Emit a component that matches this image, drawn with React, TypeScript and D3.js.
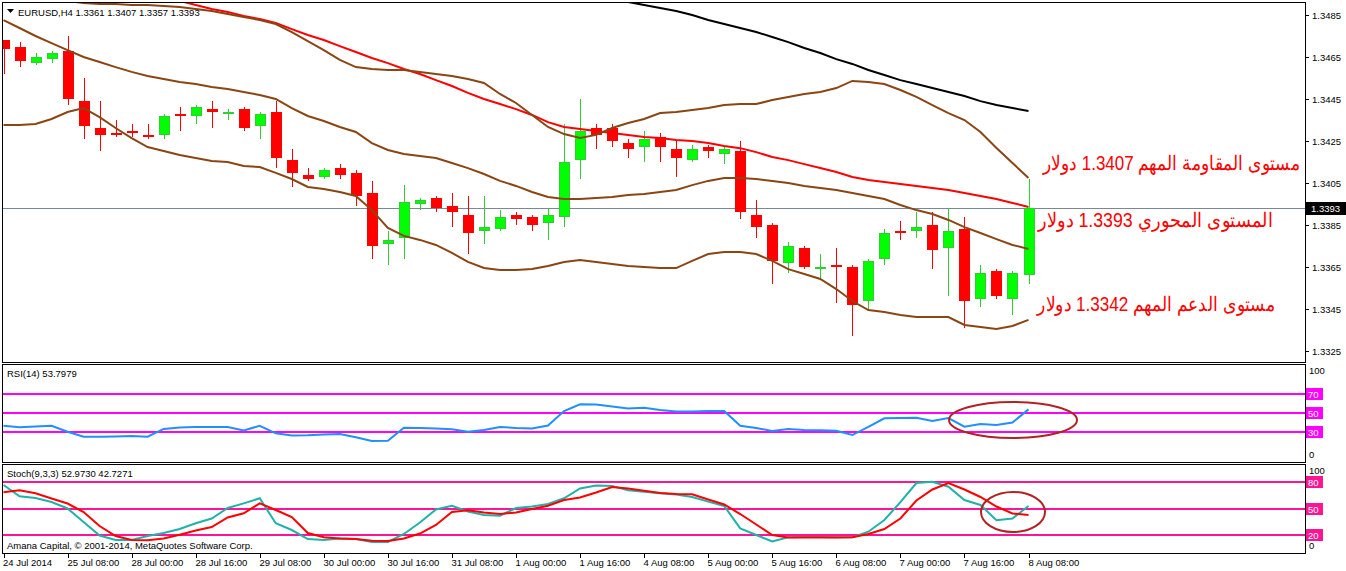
import React, { useEffect, useRef } from 'react';
import * as d3 from 'd3';

const W = 1346;
const H = 571;

// EURUSD H4, 24 Jul 2014 16:00 .. 8 Aug 2014 08:00
const opens = [
  1.3473, 1.3470, 1.3462, 1.3464, 1.3468, 1.3444, 1.3431, 1.3429, 1.3430, 1.3428,
  1.3428, 1.3438, 1.3437, 1.3440, 1.3438, 1.3440, 1.3432, 1.3439, 1.3416, 1.3409,
  1.3408, 1.3412, 1.3410, 1.3400, 1.3376, 1.3379, 1.3395, 1.3398, 1.3394, 1.3390,
  1.3382, 1.3383, 1.3390, 1.3389, 1.3386, 1.3389, 1.3416, 1.3431, 1.3431, 1.3424,
  1.3422, 1.3427, 1.3421, 1.3416, 1.3422, 1.3419, 1.3420, 1.3390, 1.3385, 1.3367,
  1.3374, 1.3364, 1.3366, 1.3365, 1.3349, 1.3369, 1.3382, 1.3382, 1.3385, 1.3374,
  1.3383, 1.3350, 1.3363, 1.3350, 1.3361,
];
const highs = [
  1.3473, 1.3472, 1.3467, 1.3468, 1.3475, 1.3455, 1.3444, 1.3435, 1.3433, 1.3433,
  1.3438, 1.3441, 1.3442, 1.3444, 1.3440, 1.3441, 1.3439, 1.3444, 1.3421, 1.3412,
  1.3412, 1.3414, 1.3411, 1.3406, 1.3382, 1.3404, 1.3398, 1.3399, 1.3400, 1.3399,
  1.3399, 1.3392, 1.3391, 1.3390, 1.3393, 1.3433, 1.3445, 1.3433, 1.3433, 1.3426,
  1.3430, 1.3429, 1.3425, 1.3423, 1.3423, 1.3422, 1.3425, 1.3397, 1.3386, 1.3377,
  1.3375, 1.3371, 1.3374, 1.3366, 1.3369, 1.3383, 1.3387, 1.3391, 1.3391, 1.3393,
  1.3389, 1.3366, 1.3364, 1.3363, 1.3407,
];
const lows = [
  1.3457, 1.3460, 1.3461, 1.3462, 1.3442, 1.3426, 1.3420, 1.3427, 1.3427, 1.3426,
  1.3426, 1.3430, 1.3433, 1.3431, 1.3435, 1.3430, 1.3426, 1.3412, 1.3403, 1.3406,
  1.3407, 1.3407, 1.3394, 1.3369, 1.3366, 1.3369, 1.3392, 1.3391, 1.3384, 1.3371,
  1.3376, 1.3382, 1.3385, 1.3382, 1.3378, 1.3384, 1.3407, 1.3421, 1.3422, 1.3417,
  1.3415, 1.3415, 1.3408, 1.3415, 1.3417, 1.3414, 1.3388, 1.3379, 1.3357, 1.3362,
  1.3364, 1.3359, 1.3348, 1.3332, 1.3345, 1.3366, 1.3378, 1.3379, 1.3364, 1.3351,
  1.3336, 1.3346, 1.3350, 1.3342, 1.3357,
];
const closes = [
  1.3469, 1.3463, 1.3465, 1.3467, 1.3445, 1.3432, 1.3428, 1.3429, 1.3429, 1.3427,
  1.3437, 1.3438, 1.3441, 1.3439, 1.3439, 1.3431, 1.3438, 1.3417, 1.3410, 1.3407,
  1.3411, 1.3409, 1.3399, 1.3375, 1.3378, 1.3396, 1.3397, 1.3393, 1.3391, 1.3381,
  1.3384, 1.3389, 1.3388, 1.3385, 1.3390, 1.3415, 1.3430, 1.3428, 1.3425, 1.3421,
  1.3426, 1.3422, 1.3417, 1.3421, 1.3420, 1.3421, 1.3391, 1.3384, 1.3368, 1.3375,
  1.3365, 1.3365, 1.3365, 1.3347, 1.3368, 1.3381, 1.3381, 1.3384, 1.3373, 1.3382,
  1.3349, 1.3362, 1.3351, 1.3362, 1.3393,
];

// Bollinger bands (brown)
const bbUpper = [
  1.35017, 1.34988, 1.34964, 1.3494, 1.34917, 1.34907, 1.34902, 1.34902, 1.34898, 1.34898,
  1.34893, 1.34888, 1.34879, 1.34869, 1.34855, 1.3484, 1.34826, 1.34807, 1.34769, 1.34726,
  1.34683, 1.34636, 1.34602, 1.34593, 1.34588, 1.34588, 1.34579, 1.34569, 1.3456, 1.34545,
  1.34526, 1.34474, 1.34431, 1.34374, 1.34317, 1.34283, 1.34264, 1.34279, 1.34312, 1.34336,
  1.34355, 1.34383, 1.34388, 1.34398, 1.34407, 1.34421, 1.34426, 1.34426, 1.34445, 1.3446,
  1.34474, 1.34483, 1.34502, 1.34536, 1.34531, 1.34521, 1.34493, 1.3446, 1.34421, 1.34383,
  1.3435, 1.34293, 1.34217, 1.34145, 1.34074,
];
const bbMiddle = [
  1.34826, 1.34788, 1.3475, 1.34716, 1.34683, 1.3465, 1.34626, 1.34602, 1.34579, 1.3456,
  1.34545, 1.34531, 1.34521, 1.34507, 1.34498, 1.34483, 1.34469, 1.3445, 1.34407, 1.34369,
  1.34345, 1.34317, 1.34293, 1.3424, 1.34207, 1.34188, 1.34179, 1.34169, 1.34145, 1.34121,
  1.34093, 1.3406, 1.34036, 1.34007, 1.33983, 1.33974, 1.33974, 1.33979, 1.33983, 1.33993,
  1.33998, 1.34007, 1.34017, 1.3404, 1.3406, 1.34074, 1.34074, 1.34069, 1.3406, 1.3405,
  1.34036, 1.34026, 1.34017, 1.34002, 1.33988, 1.33974, 1.33945, 1.33921, 1.33902, 1.33874,
  1.3384, 1.33812, 1.33783, 1.33755, 1.33736,
];
const bbLower = [
  1.34326, 1.34326, 1.34331, 1.34355, 1.34388, 1.34407, 1.34364, 1.34312, 1.34264, 1.34221,
  1.34202, 1.34183, 1.34169, 1.34155, 1.3415, 1.34131, 1.34126, 1.34098, 1.34069, 1.34031,
  1.34021, 1.34007, 1.33988, 1.33921, 1.33836, 1.33798, 1.33779, 1.33755, 1.33717, 1.33674,
  1.33645, 1.33636, 1.33636, 1.3364, 1.33655, 1.33674, 1.33683, 1.33674, 1.33664, 1.33655,
  1.3365, 1.33645, 1.33645, 1.33679, 1.33712, 1.33721, 1.33721, 1.33712, 1.33679, 1.3364,
  1.33617, 1.33593, 1.33545, 1.33488, 1.33445, 1.33436, 1.33421, 1.33412, 1.33412, 1.33412,
  1.33374, 1.33364, 1.33355, 1.33369, 1.33398,
];
// moving averages
const maRed = [
  1.35102, 1.35083, 1.35069, 1.3505, 1.35031, 1.35012, 1.34993, 1.34978, 1.34959, 1.34945,
  1.34926, 1.34917, 1.34898, 1.34879, 1.34864, 1.34845, 1.34831, 1.34812, 1.34783, 1.34755,
  1.34731, 1.34702, 1.34674, 1.34645, 1.34621, 1.34593, 1.34569, 1.3454, 1.34512, 1.34479,
  1.3445, 1.34426, 1.34402, 1.34374, 1.3434, 1.34317, 1.34307, 1.34298, 1.34288, 1.34279,
  1.34269, 1.34264, 1.34255, 1.3425, 1.3424, 1.34226, 1.34216, 1.34197, 1.34174, 1.34159,
  1.3414, 1.34121, 1.34102, 1.34079, 1.34064, 1.34055, 1.34045, 1.34036, 1.34026, 1.34017,
  1.34002, 1.33988, 1.33974, 1.33955, 1.33936,
];
const maBlackStart = 35;
const maBlack = [
  1.34978, 1.34964, 1.3495, 1.34936, 1.34912, 1.34898, 1.34883, 1.34869, 1.3485, 1.34826,
  1.34807, 1.34788, 1.34769, 1.34745, 1.34721, 1.34693, 1.34669, 1.3464, 1.34617, 1.34588,
  1.34564, 1.3454, 1.34521, 1.34502, 1.34483, 1.34464, 1.3444, 1.34421, 1.34407, 1.34393,
];

const rsi = [
  36.6, 35.1, 35.8, 36.6, 30.3, 25.1, 25.1, 25.3, 25.8, 25.1,
  33.2, 34.7, 35.3, 35.3, 35.3, 31.6, 36.6, 28.6, 26.3, 26.5,
  27.4, 27.9, 24.5, 20.5, 20.8, 34.5, 34.2, 33.7, 32.8, 30.3,
  32.1, 35.3, 34.2, 33.7, 36.8, 52.1, 59.2, 58.9, 56.8, 54.7,
  55.6, 53.2, 51.6, 51.6, 52.1, 52.1, 36.6, 34.2, 31.1, 33.2,
  32.1, 31.8, 31.4, 26.8, 35.3, 44.4, 44.7, 45.1, 41.6, 44.7,
  35.6, 38.4, 37.4, 40.0, 53.8,
];
const stochK = [
  76.7, 63.9, 62.0, 57.4, 50.1, 34.8, 19.4, 14.4, 14.4, 18.9,
  22.3, 26.8, 33.3, 38.7, 50.6, 55.9, 61.6, 33.3, 25.7, 15.5,
  14.4, 16.1, 15.5, 12.1, 12.1, 21.2, 34.2, 48.9, 53.2, 46.7,
  42.7, 41.9, 50.6, 52.3, 55.2, 61.6, 72.7, 76.1, 75.5, 70.7,
  69.1, 67.3, 65.9, 63.1, 57.8, 52.9, 27.6, 20.0, 12.7, 17.4,
  17.8, 17.8, 17.6, 17.4, 23.8, 37.0, 57.2, 78.9, 80.4, 74.7,
  59.7, 54.1, 36.7, 38.8, 52.97,
];
const stochD = [
  68.4, 70.7, 67.3, 61.4, 55.7, 46.1, 30.2, 18.9, 14.4, 14.0,
  16.1, 20.4, 25.1, 29.1, 39.9, 44.6, 55.9, 48.4, 40.4, 22.3,
  17.4, 16.1, 15.5, 13.5, 13.3, 16.1, 21.7, 31.4, 46.1, 48.0,
  45.5, 43.8, 45.5, 49.5, 53.2, 59.7, 62.5, 68.2, 74.4, 72.7,
  70.2, 67.6, 66.5, 66.1, 60.2, 54.6, 43.8, 31.9, 20.0, 17.2,
  17.2, 17.2, 17.3, 17.4, 21.2, 26.8, 38.7, 59.1, 71.6, 78.9,
  71.6, 63.1, 52.3, 44.4, 42.73,
];

const priceTicks = [1.3485, 1.3465, 1.3445, 1.3425, 1.3405, 1.3385, 1.3365, 1.3345, 1.3325];
const rsiLevels = [70, 50, 30];
const stochLevels = [80, 50, 20];
const timeIndex = [0, 4, 8, 12, 16, 20, 24, 28, 32, 36, 40, 44, 48, 52, 56, 60, 64];
const timeText = [
  '24 Jul 2014', '25 Jul 08:00', '28 Jul 00:00', '28 Jul 16:00', '29 Jul 08:00', '30 Jul 00:00',
  '30 Jul 16:00', '31 Jul 08:00', '1 Aug 00:00', '1 Aug 16:00', '4 Aug 08:00', '5 Aug 00:00',
  '5 Aug 16:00', '6 Aug 08:00', '7 Aug 00:00', '7 Aug 16:00', '8 Aug 08:00',
];
const noteText = [
  'مستوى المقاومة المهم 1.3407 دولار',
  'المستوى المحوري 1.3393 دولار',
  'مستوى الدعم المهم 1.3342 دولار',
];

const FONT = '"Liberation Sans", Arial, sans-serif';
const FS = 9.5;
const BEAR = '#ff0000';
const BULL = '#00ff00';
const BULL_EDGE = '#32cd32';
const BROWN = '#8b4513';

export default function App() {
  const svgRef = useRef<SVGSVGElement>(null);

  useEffect(() => {
    if (!svgRef.current) return;
    const svg = d3.select(svgRef.current);
    svg.selectAll('*').remove();

    const last = opens.length - 1;
    const left = 3;
    const right = 1305;

    const x = d3.scaleLinear().domain([0, last]).range([3.5, 1028.5]);
    const cx = (i: number) => Math.round(x(i)) + 0.5;
    const y = d3.scaleLinear().domain([1.3325, 1.3485]).range([351, 15]);
    const yRsi = d3.scaleLinear().domain([0, 100]).range([460.5, 365.5]);
    const ySto = d3.scaleLinear().domain([0, 100]).range([552.7, 464.4]);

    svg.append('rect').attr('width', W).attr('height', H).attr('fill', '#fff');

    const defs = svg.append('defs');
    const clips = [
      { id: 'clip-main', top: 3, bottom: 362 },
      { id: 'clip-rsi', top: 365, bottom: 462 },
      { id: 'clip-sto', top: 465, bottom: 553 },
    ];
    clips.forEach(c => {
      defs.append('clipPath').attr('id', c.id)
        .append('rect')
        .attr('x', left).attr('y', c.top)
        .attr('width', right - left).attr('height', c.bottom - c.top);
    });

    // ---- main panel ----
    const main = svg.append('g').attr('clip-path', 'url(#clip-main)');

    main.append('path').attr('d', 'M7,9L14,9L10.5,13Z').attr('fill', '#000');
    const fmt = d3.format('.4f');
    main.append('text')
      .attr('x', 18).attr('y', 16)
      .attr('font-family', FONT).attr('font-size', FS)
      .text(`EURUSD,H4  ${fmt(opens[last])} ${fmt(highs[last])} ${fmt(lows[last])} ${fmt(closes[last])}`);

    // bid line
    const bidY = Math.round(y(closes[last])) + 0.5;
    main.append('line')
      .attr('x1', left).attr('x2', right).attr('y1', bidY).attr('y2', bidY)
      .attr('stroke', '#778899').attr('stroke-width', 1);

    // candles
    const idx = d3.range(opens.length);
    const candle = main.append('g').selectAll('g').data(idx).enter().append('g');
    const isBull = (i: number) => closes[i] > opens[i];

    candle.append('line')
      .attr('x1', i => cx(i)).attr('x2', i => cx(i))
      .attr('y1', i => Math.round(y(highs[i])))
      .attr('y2', i => Math.round(y(lows[i])))
      .attr('stroke', i => (isBull(i) ? BULL_EDGE : BEAR))
      .attr('stroke-width', 1);

    candle.append('rect')
      .attr('x', i => cx(i) - 5)
      .attr('y', i => Math.round(y(Math.max(opens[i], closes[i]))) + 0.5)
      .attr('width', 10)
      .attr('height', i => Math.max(1,
        Math.round(y(Math.min(opens[i], closes[i]))) - Math.round(y(Math.max(opens[i], closes[i]))) - 1))
      .attr('fill', i => (isBull(i) ? BULL : BEAR))
      .attr('stroke', i => (isBull(i) ? BULL_EDGE : BEAR))
      .attr('stroke-width', 1);

    // indicator lines
    const priceLine = d3.line<number>().x((_, i) => x(i)).y(v => y(v));
    const blackLine = d3.line<number>().x((_, i) => x(i + maBlackStart)).y(v => y(v));

    main.append('path').attr('d', blackLine(maBlack))
      .attr('fill', 'none').attr('stroke', '#000').attr('stroke-width', 2);
    main.append('path').attr('d', priceLine(maRed))
      .attr('fill', 'none').attr('stroke', '#ff0000').attr('stroke-width', 2);
    [bbUpper, bbMiddle, bbLower].forEach(band => {
      main.append('path').attr('d', priceLine(band))
        .attr('fill', 'none').attr('stroke', BROWN).attr('stroke-width', 2);
    });

    // Arabic notes
    const noteRight = [1300, 1273, 1275];
    const noteBase = [170, 227, 311];
    const noteWidth = [257, 235, 238];
    noteText.forEach((t, k) => {
      svg.append('text')
        .attr('x', noteRight[k]).attr('y', noteBase[k])
        .attr('text-anchor', 'end')
        .attr('textLength', noteWidth[k])
        .attr('lengthAdjust', 'spacingAndGlyphs')
        .attr('font-family', FONT).attr('font-size', 20)
        .attr('fill', '#ff0000')
        .text(t);
    });

    // price axis
    priceTicks.forEach(p => {
      const py = Math.round(y(p)) + 0.5;
      svg.append('line').attr('x1', right).attr('x2', right + 4).attr('y1', py).attr('y2', py)
        .attr('stroke', '#000');
      svg.append('text').attr('x', right + 7).attr('y', py + 3.5)
        .attr('font-family', FONT).attr('font-size', FS).text(fmt(p));
    });
    svg.append('rect').attr('x', right + 1).attr('y', bidY - 6.5).attr('width', 40).attr('height', 13)
      .attr('fill', '#000');
    svg.append('text').attr('x', right + 6).attr('y', bidY + 3.5)
      .attr('font-family', FONT).attr('font-size', FS).attr('fill', '#fff').text(fmt(closes[last]));

    // ---- RSI panel ----
    const rsiG = svg.append('g').attr('clip-path', 'url(#clip-rsi)');
    rsiG.append('text').attr('x', 7).attr('y', 377)
      .attr('font-family', FONT).attr('font-size', FS)
      .text(`RSI(14) ${d3.format('.4f')(53.7979)}`);
    rsiLevels.forEach(l => {
      rsiG.append('line').attr('x1', left).attr('x2', right)
        .attr('y1', Math.round(yRsi(l))).attr('y2', Math.round(yRsi(l)))
        .attr('stroke', '#ff00ff').attr('stroke-width', 2);
    });
    const rsiLine = d3.line<number>().x((_, i) => x(i)).y(v => yRsi(v));
    rsiG.append('path').attr('d', rsiLine(rsi))
      .attr('fill', 'none').attr('stroke', '#1e90ff').attr('stroke-width', 2);
    rsiG.append('ellipse').attr('cx', 1013).attr('cy', 420).attr('rx', 64).attr('ry', 18)
      .attr('fill', 'none').attr('stroke', '#b22222').attr('stroke-width', 2);

    // ---- Stochastic panel ----
    const stoG = svg.append('g').attr('clip-path', 'url(#clip-sto)');
    stoG.append('text').attr('x', 7).attr('y', 477)
      .attr('font-family', FONT).attr('font-size', FS)
      .text('Stoch(9,3,3) 52.9730 42.7271');
    stochLevels.forEach(l => {
      stoG.append('line').attr('x1', left).attr('x2', right)
        .attr('y1', Math.round(ySto(l))).attr('y2', Math.round(ySto(l)))
        .attr('stroke', '#ff1493').attr('stroke-width', 2);
    });
    const stoLine = d3.line<number>().x((_, i) => x(i)).y(v => ySto(v));
    stoG.append('path').attr('d', stoLine(stochK))
      .attr('fill', 'none').attr('stroke', '#20b2aa').attr('stroke-width', 2);
    stoG.append('path').attr('d', stoLine(stochD))
      .attr('fill', 'none').attr('stroke', '#ff0000').attr('stroke-width', 2);
    stoG.append('ellipse').attr('cx', 1013).attr('cy', 512).attr('rx', 32).attr('ry', 20)
      .attr('fill', 'none').attr('stroke', '#b22222').attr('stroke-width', 2);
    stoG.append('text').attr('x', 7).attr('y', 549)
      .attr('font-family', FONT).attr('font-size', FS)
      .text('Amana Capital, © 2001-2014, MetaQuotes Software Corp.');

    // indicator axes
    const levelBox = (ly: number, txt: string, color: string) => {
      svg.append('rect').attr('x', right + 1).attr('y', ly - 6).attr('width', 17).attr('height', 12)
        .attr('fill', color);
      svg.append('text').attr('x', right + 3).attr('y', ly + 4)
        .attr('font-family', FONT).attr('font-size', FS).attr('fill', '#fff').text(txt);
    };
    rsiLevels.forEach(l => levelBox(Math.round(yRsi(l)), String(l), '#ff00ff'));
    stochLevels.forEach(l => levelBox(Math.round(ySto(l)), String(l), '#ff1493'));
    [[374, '100'], [458, '0'], [474, '100'], [549, '0']].forEach(([ty, t]) => {
      svg.append('text').attr('x', right + 4).attr('y', ty as number)
        .attr('font-family', FONT).attr('font-size', FS).text(t as string);
    });

    // panel borders
    [[2.5, 362.5], [364.5, 462.5], [464.5, 553.5]].forEach(([t, b]) => {
      svg.append('rect').attr('x', 2.5).attr('y', t).attr('width', right - 2).attr('height', b - t)
        .attr('fill', 'none').attr('stroke', '#000').attr('stroke-width', 1);
    });

    // time axis
    timeIndex.forEach((bi, k) => {
      const tx = cx(bi);
      svg.append('line').attr('x1', tx).attr('x2', tx).attr('y1', 554).attr('y2', 558)
        .attr('stroke', '#000');
      svg.append('text').attr('x', k === 0 ? 3 : tx - 1).attr('y', 566)
        .attr('font-family', FONT).attr('font-size', FS).text(timeText[k]);
    });
  }, []);

  return (
    <svg
      ref={svgRef}
      width={W}
      height={H}
      style={{ position: 'absolute', left: 0, top: 0, display: 'block' }}
    />
  );
}
